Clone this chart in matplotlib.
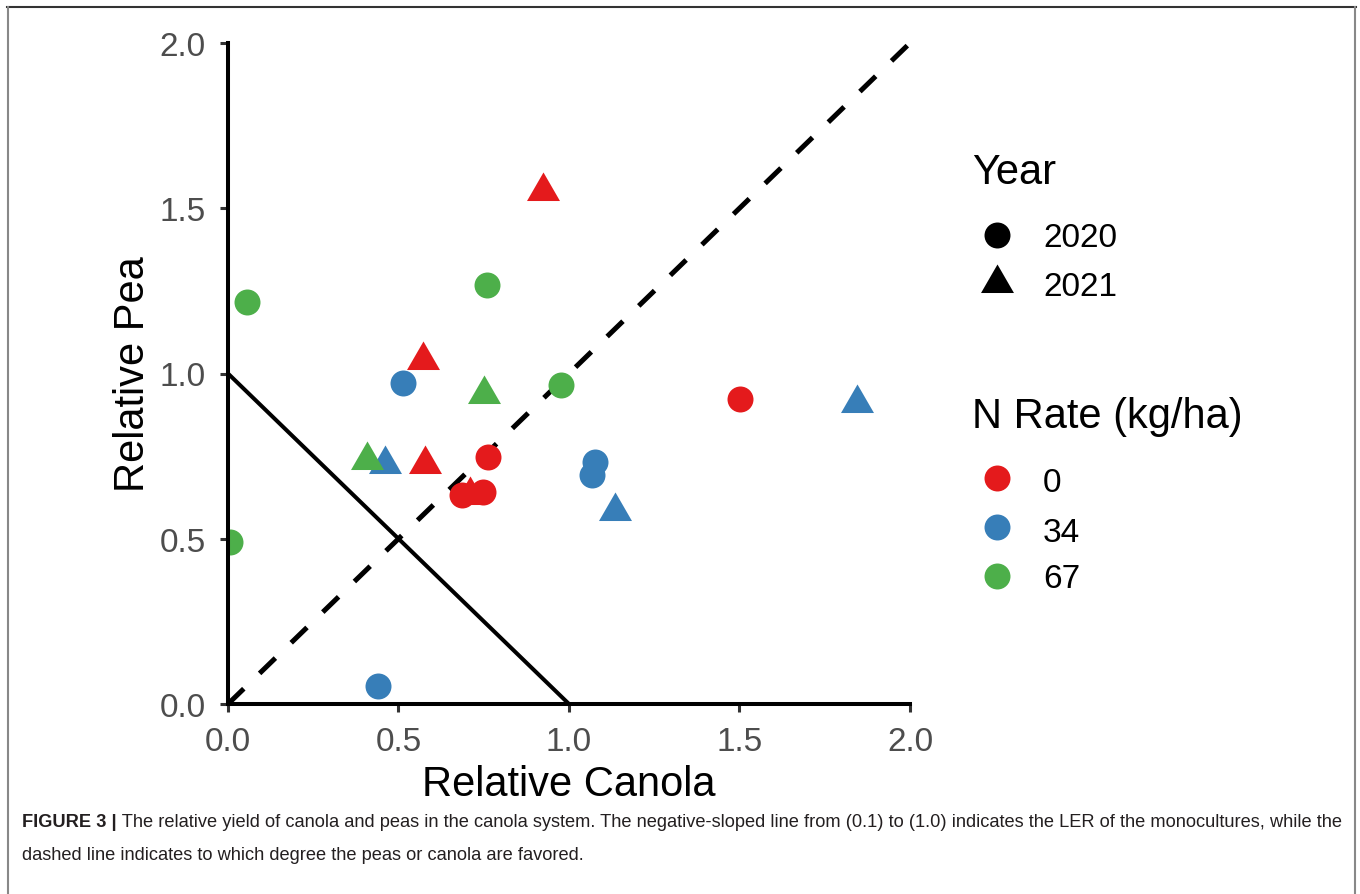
import matplotlib
matplotlib.use("Agg")
import matplotlib.pyplot as plt
from matplotlib.path import Path
from matplotlib.lines import Line2D
from matplotlib import font_manager

# ---- data -------------------------------------------------------------
canola = [0.924, 0.571, 0.578, 0.762, 0.685, 0.749, 0.709, 1.501,
          0.512, 0.460, 1.076, 1.067, 1.135, 1.845, 0.440,
          0.055, 0.006, 0.760, 0.752, 0.977, 0.407]
pea = [1.553, 1.042, 0.726, 0.748, 0.633, 0.640, 0.631, 0.924,
       0.970, 0.727, 0.733, 0.694, 0.584, 0.912, 0.055,
       1.217, 0.491, 1.267, 0.939, 0.966, 0.739]
year = [2021, 2021, 2021, 2020, 2020, 2020, 2021, 2020,
        2020, 2021, 2020, 2020, 2021, 2021, 2020,
        2020, 2020, 2020, 2021, 2020, 2021]
n_rate = [0, 0, 0, 0, 0, 0, 0, 0,
          34, 34, 34, 34, 34, 34, 34,
          67, 67, 67, 67, 67, 67]

years = [2020, 2021]
rates = [0, 34, 67]
rate_colors = {0: "#E41A1C", 34: "#377EB8", 67: "#4DAF4A"}

# reference lines: LER of monocultures and 1:1 line
ler_x, ler_y = [0, 1], [1, 0]
diag_x, diag_y = [0, 2], [0, 2]

axis_ticks = [0.0, 0.5, 1.0, 1.5, 2.0]

# ---- styling ----------------------------------------------------------
W, H = 1360, 895
plt.rcParams["font.family"] = ["Liberation Sans", "DejaVu Sans"]

# equilateral triangle centred on its centroid
tri = Path([(0, 1), (-0.8660, -0.5), (0.8660, -0.5), (0, 1)],
           [Path.MOVETO, Path.LINETO, Path.LINETO, Path.CLOSEPOLY])
year_marker = {2020: "o", 2021: tri}
year_size = {2020: 350, 2021: 752}

fig = plt.figure(figsize=(W / 100, H / 100), dpi=100)


def fx(px):
    return px / W


def fy(py):
    return 1 - py / H


ax = fig.add_axes([fx(228), fy(705), fx(910) - fx(228), fy(44) - fy(705)])
ax.set_xlim(0, 2)
ax.set_ylim(0, 2)

ax.plot(ler_x, ler_y, color="black", lw=2.9, solid_capstyle="butt", zorder=2)
ax.plot(diag_x, diag_y, color="black", lw=3.6, linestyle=(0, (4.4, 4.4)),
        dash_capstyle="butt", zorder=2)

for cx, cy, yr, nr in zip(canola, pea, year, n_rate):
    ax.scatter([cx], [cy], s=year_size[yr], marker=year_marker[yr],
               color=rate_colors[nr], linewidths=0, zorder=3)

for side in ["top", "right"]:
    ax.spines[side].set_visible(False)
for side in ["left", "bottom"]:
    ax.spines[side].set_linewidth(2.9)
    ax.spines[side].set_color("black")
    ax.spines[side].set_zorder(4)

ax.set_xticks(axis_ticks)
ax.set_yticks(axis_ticks)
ax.set_xticklabels([f"{t:.1f}" for t in axis_ticks])
ax.set_yticklabels([f"{t:.1f}" for t in axis_ticks])
ax.tick_params(axis="both", length=6, width=2.2, color="#333333",
               labelsize=24, labelcolor="#4D4D4D", pad=10)

ax.set_xlabel("Relative Canola", fontsize=30, color="black", labelpad=5)
ax.set_ylabel("Relative Pea", fontsize=30, color="black", labelpad=5)

# ---- legends ----------------------------------------------------------
fig.text(fx(972), fy(184), "Year", fontsize=30, va="baseline", ha="left")
for yr, base, mk_y in zip(years, [247, 296], [236, 284]):
    fig.add_artist(Line2D([fx(997)], [fy(mk_y)], transform=fig.transFigure,
                          marker=year_marker[yr], linestyle="none",
                          markersize=(18.7 if yr == 2020 else 27.4),
                          markerfacecolor="black", markeredgewidth=0))
    fig.text(fx(1043), fy(base), str(yr), fontsize=24, va="baseline",
             ha="left")

fig.text(fx(972), fy(428), "N Rate (kg/ha)", fontsize=30, va="baseline",
         ha="left")
for nr, base, mk_y in zip(rates, [492, 542, 588], [479, 528, 577]):
    fig.add_artist(Line2D([fx(997)], [fy(mk_y)], transform=fig.transFigure,
                          marker="o", linestyle="none", markersize=18.7,
                          markerfacecolor=rate_colors[nr],
                          markeredgewidth=0))
    fig.text(fx(1043), fy(base), str(nr), fontsize=24, va="baseline",
             ha="left")

# ---- frame and caption --------------------------------------------------
fig.add_artist(Line2D([fx(7), fx(1356)], [fy(8), fy(8)],
                      transform=fig.transFigure, color="#333333", lw=1.5))
fig.add_artist(Line2D([fx(8), fx(8)], [fy(8), fy(895)],
                      transform=fig.transFigure, color="#888888", lw=1.5))
fig.add_artist(Line2D([fx(1355), fx(1355)], [fy(8), fy(895)],
                      transform=fig.transFigure, color="#888888", lw=1.5))

cap_fams = [f for f in ["Liberation Sans Narrow", "Liberation Sans"]
            if any(f == e.name for e in font_manager.fontManager.ttflist)]
cap_fams = cap_fams + ["DejaVu Sans"]

bold_txt = "FIGURE 3 |"
line1 = (" The relative yield of canola and peas in the canola system. "
         "The negative-sloped line from (0.1) to (1.0) indicates the LER of "
         "the monocultures, while the")
line2 = "dashed line indicates to which degree the peas or canola are favored."

fig.canvas.draw()
renderer = fig.canvas.get_renderer()
size = 13.0
t_b = fig.text(fx(22), fy(827), bold_txt, fontsize=size, fontweight="bold",
               family=cap_fams, color="#231F20", va="baseline")
t_1 = fig.text(0, fy(827), line1, fontsize=size, family=cap_fams,
               color="#231F20", va="baseline")
wb = t_b.get_window_extent(renderer).width
w1 = t_1.get_window_extent(renderer).width
size = size * (1340 - 22) / (wb + w1)
t_b.set_fontsize(size)
t_1.set_fontsize(size)
wb = t_b.get_window_extent(renderer).width
t_1.set_x(fx(22 + wb))
fig.text(fx(22), fy(860), line2, fontsize=size, family=cap_fams,
         color="#231F20", va="baseline")

fig.savefig("out.png", dpi=100)
